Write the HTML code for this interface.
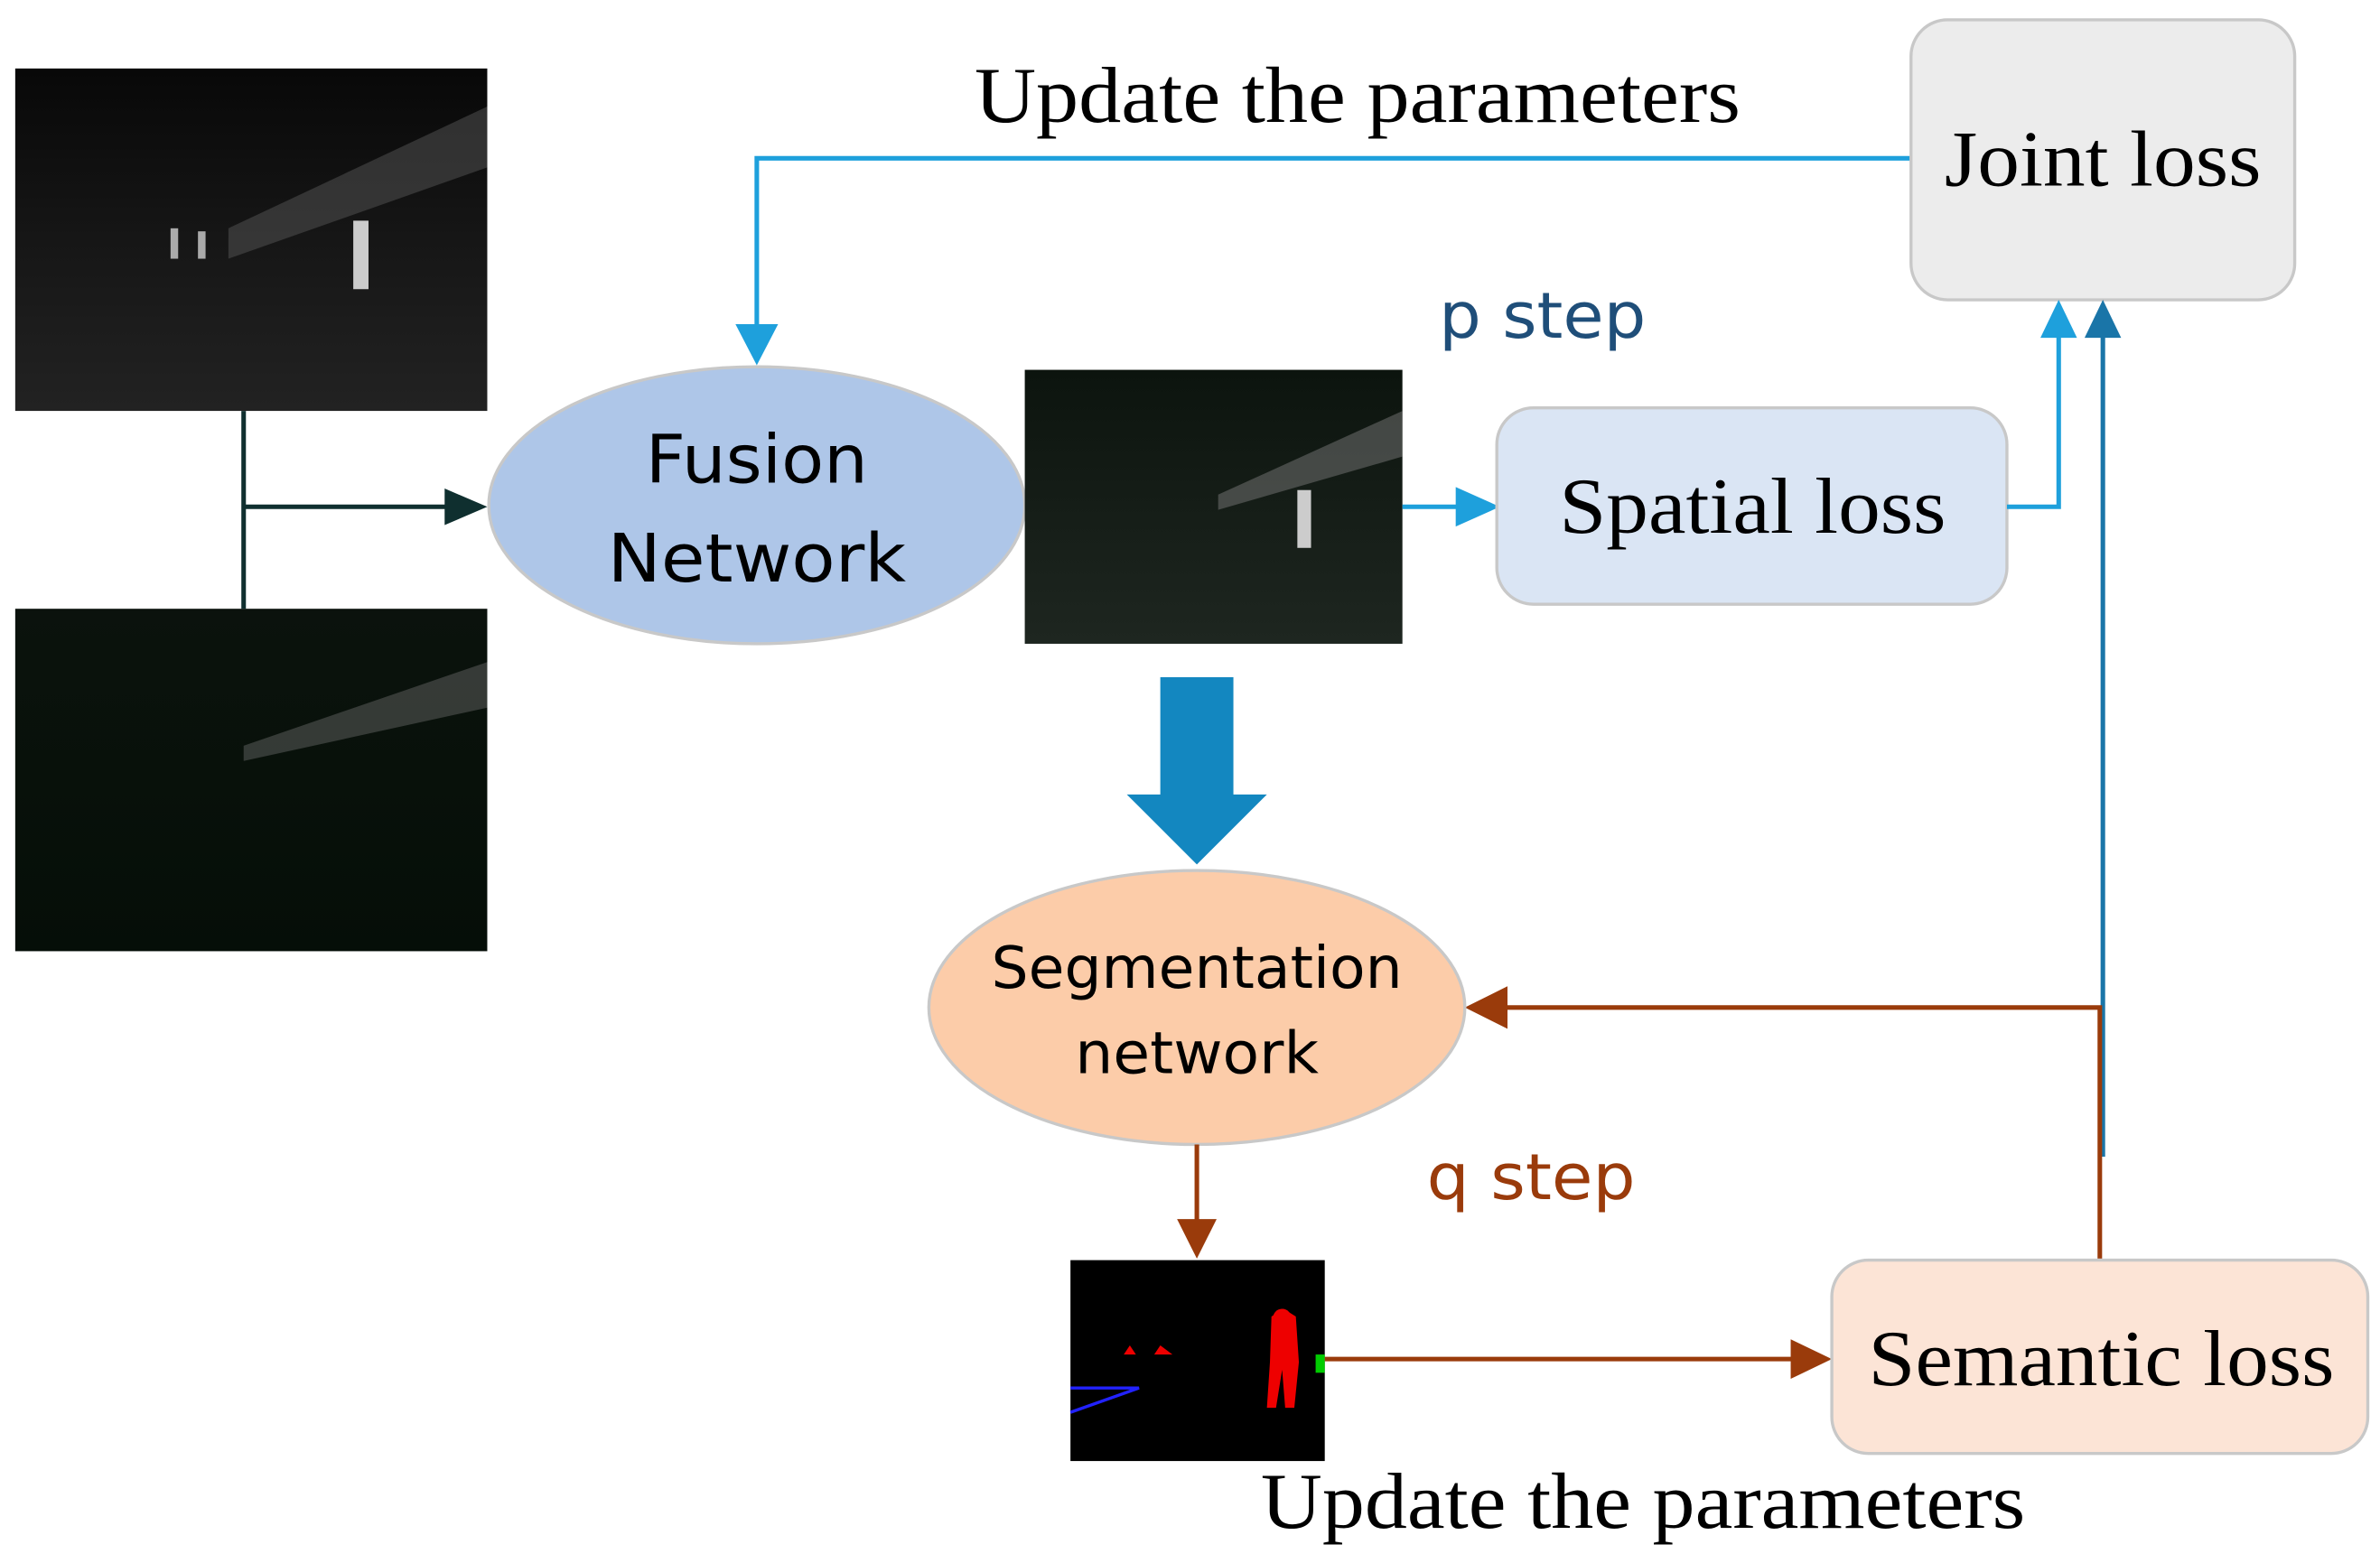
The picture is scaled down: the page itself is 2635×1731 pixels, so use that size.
<!DOCTYPE html>
<html><head><meta charset="utf-8"><style>html,body{margin:0;padding:0;background:#fff}svg{display:block}</style></head>
<body>
<svg width="2635" height="1731" viewBox="0 0 1563 1027" preserveAspectRatio="none" xmlns="http://www.w3.org/2000/svg">
<defs>
<linearGradient id="th" x1="0" y1="0" x2="0" y2="1"><stop offset="0" stop-color="#080808"/><stop offset="0.5" stop-color="#161616"/><stop offset="1" stop-color="#222"/></linearGradient>
<linearGradient id="vi" x1="0" y1="0" x2="0" y2="1"><stop offset="0" stop-color="#0b120d"/><stop offset="0.5" stop-color="#08110a"/><stop offset="1" stop-color="#050e08"/></linearGradient>
<linearGradient id="fu" x1="0" y1="0" x2="0" y2="1"><stop offset="0" stop-color="#0c140e"/><stop offset="0.55" stop-color="#161e18"/><stop offset="1" stop-color="#1e2620"/></linearGradient>
</defs>
<rect x="10" y="45" width="310" height="225" fill="url(#th)"/>
<polygon points="150,150 320,70 320,110 150,170" fill="#555" opacity="0.5"/>
<rect x="232" y="145" width="10" height="45" fill="#ccc"/>
<rect x="112" y="150" width="5" height="20" fill="#aaa"/><rect x="130" y="152" width="5" height="18" fill="#aaa"/>
<rect x="10" y="400" width="310" height="225" fill="url(#vi)"/>
<polygon points="160,490 320,435 320,465 160,500" fill="#777" opacity="0.4"/>
<path d="M160 270 V400 M160 333 H295" stroke="#0f2f2f" stroke-width="3" fill="none"/>
<polygon points="292,321 320,333 292,345" fill="#0f2f2f"/>
<ellipse cx="497" cy="332" rx="176" ry="91" fill="#aec6e8" stroke="#c8c8c8" stroke-width="2"/>
<text x="497" y="317" font-family="DejaVu Sans, sans-serif" font-size="44" text-anchor="middle" textLength="146" lengthAdjust="spacingAndGlyphs" fill="#000">Fusion</text>
<text x="497" y="382" font-family="DejaVu Sans, sans-serif" font-size="44" text-anchor="middle" textLength="196" lengthAdjust="spacingAndGlyphs" fill="#000">Network</text>
<rect x="673" y="243" width="248" height="180" fill="url(#fu)"/>
<polygon points="800,325 921,270 921,300 800,335" fill="#777" opacity="0.5"/>
<rect x="852" y="322" width="9" height="38" fill="#ccc"/>
<path d="M1255 104 H497 V215" stroke="#1ea0dc" stroke-width="3" fill="none"/>
<polygon points="483,213 497,240 511,213" fill="#1ea0dc"/>
<text x="640" y="80" font-family="Liberation Serif, serif" font-size="52" textLength="503" lengthAdjust="spacingAndGlyphs" fill="#000">Update the parameters</text>
<rect x="1255" y="13" width="252" height="184" rx="24" fill="#ececec" stroke="#c8c8c8" stroke-width="2"/>
<text x="1381" y="122" font-family="Liberation Serif, serif" font-size="52" text-anchor="middle" textLength="208" lengthAdjust="spacingAndGlyphs" fill="#000">Joint loss</text>
<text x="945" y="222" font-family="DejaVu Sans, sans-serif" font-size="42" textLength="136" lengthAdjust="spacingAndGlyphs" fill="#1f4e79">p step</text>
<path d="M921 333 H958" stroke="#1ea0dc" stroke-width="3"/>
<polygon points="956,320 985,333 956,346" fill="#1ea0dc"/>
<rect x="983" y="268" width="335" height="129" rx="24" fill="#dae5f4" stroke="#c8c8c8" stroke-width="2"/>
<text x="1151" y="350" font-family="Liberation Serif, serif" font-size="52" text-anchor="middle" textLength="254" lengthAdjust="spacingAndGlyphs" fill="#000">Spatial loss</text>
<path d="M1318 333 H1352 V220" stroke="#1ea0dc" stroke-width="3" fill="none"/>
<polygon points="1340,222 1352,197 1364,222" fill="#1ea0dc"/>
<path d="M1381 760 V220" stroke="#1a75a8" stroke-width="3"/>
<polygon points="1369,222 1381,197 1393,222" fill="#1a75a8"/>
<path d="M1379 827 V662 H988" stroke="#9a3b0b" stroke-width="3" fill="none"/>
<polygon points="990,648 962,662 990,676" fill="#9a3b0b"/>
<polygon points="762,445 810,445 810,522 832,522 786,568 740,522 762,522" fill="#1387c0"/>
<ellipse cx="786" cy="662" rx="176" ry="90" fill="#fccca9" stroke="#c8c8c8" stroke-width="2"/>
<text x="786" y="649" font-family="DejaVu Sans, sans-serif" font-size="38" text-anchor="middle" textLength="270" lengthAdjust="spacingAndGlyphs" fill="#000">Segmentation</text>
<text x="786" y="705" font-family="DejaVu Sans, sans-serif" font-size="38" text-anchor="middle" textLength="160" lengthAdjust="spacingAndGlyphs" fill="#000">network</text>
<path d="M786 752 V803" stroke="#9a3b0b" stroke-width="3"/>
<polygon points="773,801 786,827 799,801" fill="#9a3b0b"/>
<text x="937" y="788" font-family="DejaVu Sans, sans-serif" font-size="42" textLength="137" lengthAdjust="spacingAndGlyphs" fill="#9a3b0b">q step</text>
<rect x="703" y="828" width="167" height="132" fill="#000"/>
<path d="M835 865 l8 -5 l8 5 l2 30 l-3 30 l-6 0 l-2 -25 l-4 25 l-6 0 l2 -30 z" fill="#e00"/>
<circle cx="842" cy="866" r="6" fill="#e00"/>
<polygon points="738,890 742,884 746,890" fill="#e00"/><polygon points="758,890 762,884 770,890" fill="#e00"/>
<path d="M703 912 L748 912 L703 928" stroke="#22f" stroke-width="2" fill="none"/>
<rect x="864" y="890" width="6" height="12" fill="#0c0"/>
<path d="M870 893 H1178" stroke="#9a3b0b" stroke-width="3"/>
<polygon points="1176,880 1203,893 1176,906" fill="#9a3b0b"/>
<rect x="1203" y="828" width="352" height="127" rx="24" fill="#fce4d6" stroke="#c8c8c8" stroke-width="2"/>
<text x="1380" y="910" font-family="Liberation Serif, serif" font-size="52" text-anchor="middle" textLength="306" lengthAdjust="spacingAndGlyphs" fill="#000">Semantic loss</text>
<text x="828" y="1004" font-family="Liberation Serif, serif" font-size="52" textLength="502" lengthAdjust="spacingAndGlyphs" fill="#000">Update the parameters</text>
</svg>
</body></html>
